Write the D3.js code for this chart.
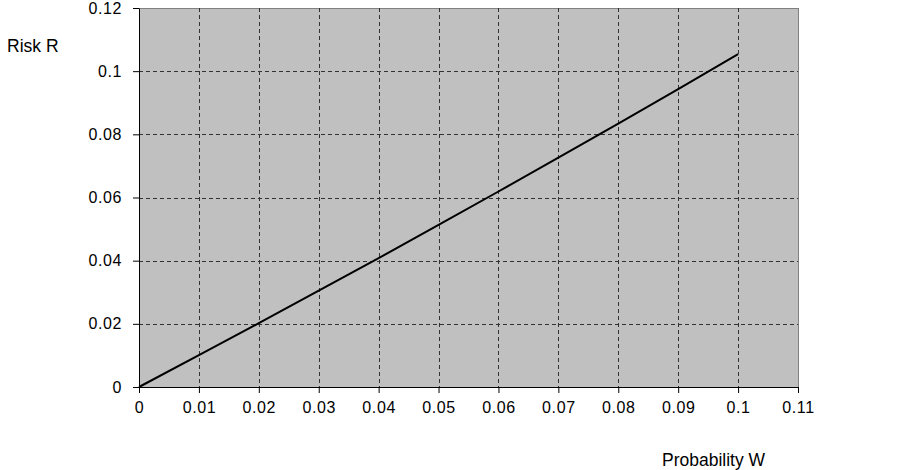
<!DOCTYPE html>
<html>
<head>
<meta charset="utf-8">
<script src="https://cdn.jsdelivr.net/npm/d3@7"></script>
<style>
  body { margin: 0; background: #fff; }
  text { font-family: "Liberation Sans", Arial, sans-serif; }
</style>
</head>
<body>
<div id="chart"></div>
<script>
// values
const probW = [0, 0.01, 0.02, 0.03, 0.04, 0.05, 0.06, 0.07, 0.08, 0.09, 0.1];
const riskR = [0, 0.0101, 0.0202, 0.0305, 0.0408, 0.0513, 0.0619, 0.0726, 0.0834, 0.0943, 0.1054];
const xTicks = [0, 0.01, 0.02, 0.03, 0.04, 0.05, 0.06, 0.07, 0.08, 0.09, 0.1, 0.11];
const yTicks = [0, 0.02, 0.04, 0.06, 0.08, 0.1, 0.12];

const W = 903, H = 470;
const plotLeft = 139, plotRight = 798, plotTop = 8, plotBottom = 387;

const svg = d3.select("#chart").append("svg")
    .attr("width", W)
    .attr("height", H);

const x = d3.scaleLinear().domain([0, 0.11]).range([plotLeft, plotRight]);
const y = d3.scaleLinear().domain([0, 0.12]).range([plotBottom, plotTop]);

// plot area
svg.append("rect")
    .attr("x", plotLeft + 0.5).attr("y", plotTop + 0.5)
    .attr("width", plotRight - plotLeft).attr("height", plotBottom - plotTop)
    .attr("fill", "#c0c0c0")
    .attr("stroke", "#808080")
    .attr("stroke-width", 1);

// grid
svg.append("g").selectAll("line")
    .data(xTicks.slice(1, -1))
    .enter().append("line")
    .attr("x1", d => Math.round(x(d)) + 0.5).attr("x2", d => Math.round(x(d)) + 0.5)
    .attr("y1", plotTop).attr("y2", plotBottom)
    .attr("stroke", "#333").attr("stroke-dasharray", "4,3");

svg.append("g").selectAll("line")
    .data(yTicks.slice(1, -1))
    .enter().append("line")
    .attr("y1", d => Math.round(y(d)) + 0.5).attr("y2", d => Math.round(y(d)) + 0.5)
    .attr("x1", plotLeft).attr("x2", plotRight)
    .attr("stroke", "#333").attr("stroke-dasharray", "4,3");

// axes
const xAxis = svg.append("g")
    .attr("transform", "translate(0," + plotBottom + ")")
    .call(d3.axisBottom(x).tickValues(xTicks).tickFormat(d3.format("~g"))
        .tickSize(6).tickSizeOuter(0).tickPadding(9));

const yAxis = svg.append("g")
    .attr("transform", "translate(" + plotLeft + ",0)")
    .call(d3.axisLeft(y).tickValues(yTicks).tickFormat(d3.format("~g"))
        .tickSize(6).tickSizeOuter(0).tickPadding(11));

[xAxis, yAxis].forEach(g => {
    g.selectAll("text").attr("font-size", 16).attr("fill", "#000")
        .attr("letter-spacing", 0.6)
        .style("font-family", '"Liberation Sans", Arial, sans-serif');
    g.selectAll("line").attr("stroke", "#000");
    g.select(".domain").attr("stroke", "#000");
});

// series
const line = d3.line()
    .x((d, i) => x(probW[i]))
    .y(d => y(d));

svg.append("path")
    .datum(riskR)
    .attr("d", line)
    .attr("fill", "none")
    .attr("stroke", "#000")
    .attr("stroke-width", 2);

// axis labels
svg.append("text")
    .attr("x", 7).attr("y", 52)
    .attr("font-size", 17.5)
    .text("Risk R");

svg.append("text")
    .attr("x", 662).attr("y", 466)
    .attr("font-size", 17.5)
    .text("Probability W");
</script>
</body>
</html>
